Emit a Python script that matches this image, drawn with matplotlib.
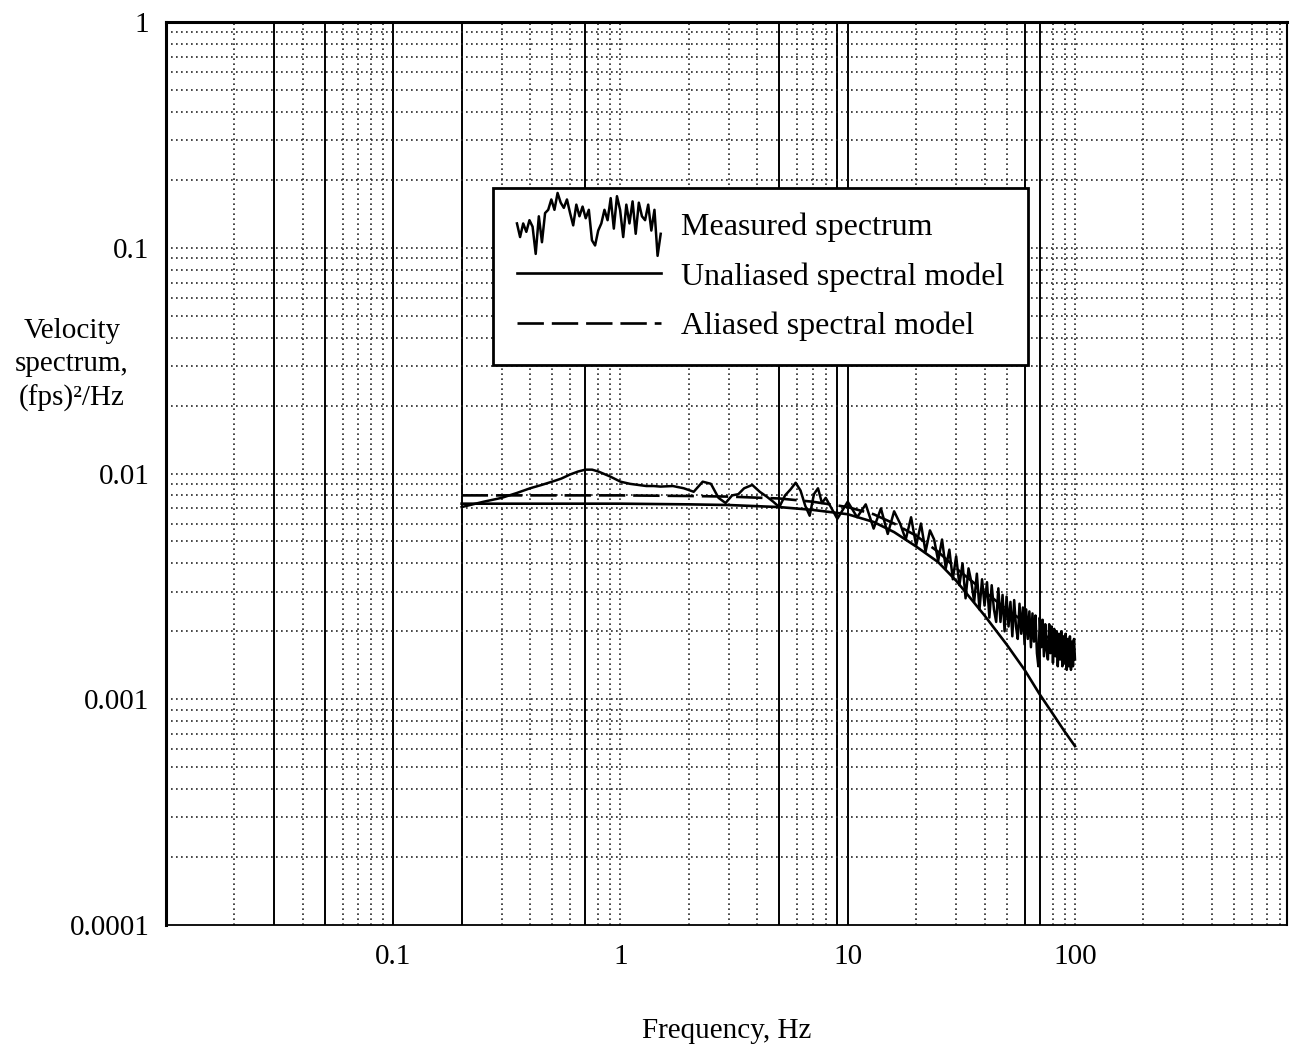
import numpy as np
import matplotlib
matplotlib.use('Agg')
import matplotlib.pyplot as plt
from matplotlib.legend_handler import HandlerBase
from matplotlib.lines import Line2D

# measured spectrum, low-frequency part (Hz, PSD in 1e-3 (fps)^2/Hz)
measured_freq_lo = [0.2, 0.25, 0.3, 0.35, 0.4, 0.45, 0.5, 0.55, 0.6, 0.65,
                    0.7, 0.75, 0.8, 0.9, 1.0, 1.1, 1.2, 1.3, 1.4, 1.5,
                    1.7, 1.9, 2.1, 2.3, 2.5, 2.7, 2.9, 3.1, 3.3, 3.5,
                    3.8, 4.1, 4.4, 4.7, 5.0, 5.3, 5.6, 5.9, 6.2, 6.5,
                    6.8, 7.1, 7.4, 7.7]
measured_psd_lo = [7.1, 7.5, 7.8, 8.2, 8.6, 8.9, 9.2, 9.5, 9.9, 10.2,
                   10.4, 10.4, 10.2, 9.7, 9.2, 9.0, 8.9, 8.8, 8.8, 8.75,
                   8.8, 8.6, 8.3, 9.2, 9.0, 7.8, 7.4, 8.0, 8.1, 8.6,
                   8.9, 8.3, 7.9, 7.5, 7.1, 8.0, 8.5, 9.1, 8.4, 7.2,
                   6.5, 8.1, 8.6, 7.4]

# measured spectrum, 1 Hz bins from 8 to 100 Hz
measured_freq_hi = [8, 9, 10, 11, 12, 13, 14, 15, 16, 17, 18, 19, 20,
                    21, 22, 23, 24, 25, 26, 27, 28, 29, 30, 31, 32, 33,
                    34, 35, 36, 37, 38, 39, 40, 41, 42, 43, 44, 45, 46,
                    47, 48, 49, 50, 51, 52, 53, 54, 55, 56, 57, 58, 59,
                    60, 61, 62, 63, 64, 65, 66, 67, 68, 69, 70, 71, 72,
                    73, 74, 75, 76, 77, 78, 79, 80, 81, 82, 83, 84, 85,
                    86, 87, 88, 89, 90, 91, 92, 93, 94, 95, 96, 97, 98,
                    99, 100]
measured_psd_hi = [7.8, 6.3, 7.5, 6.4, 7.3, 5.7, 7.0, 5.4, 6.8, 6.0, 5.1, 6.4, 4.8,
                   6.0, 4.5, 5.6, 5.1, 4.1, 5.1, 3.8, 4.6, 3.4, 4.3, 3.2, 4.0, 2.8,
                   3.8, 3.3, 2.7, 3.6, 2.5, 3.4, 2.6, 3.3, 2.3, 3.2, 2.5, 2.2, 3.1,
                   2.2, 2.9, 2.0, 2.85, 2.1, 2.7, 1.9, 2.75, 2.1, 1.85, 2.65, 1.95, 2.55,
                   1.75, 2.5, 1.85, 2.45, 1.7, 2.4, 1.8, 2.35, 1.6, 1.4, 2.3, 1.7, 2.25,
                   1.55, 2.15, 1.65, 1.5, 2.15, 1.6, 2.1, 1.45, 2.05, 1.55, 2.0, 1.4, 1.95,
                   1.5, 2.0, 1.4, 1.9, 1.45, 1.95, 1.35, 1.85, 1.4, 1.9, 1.35, 1.8, 1.4,
                   1.85, 1.5]

model_freq = [0.2, 0.5, 1, 2, 3, 5, 7, 10, 13, 16, 20, 25, 30, 40, 50,
              60, 70, 80, 90, 100]
unaliased_psd = [7.35, 7.35, 7.35, 7.3, 7.25, 7.1, 6.9, 6.6, 6.1, 5.5, 4.75,
                 4.05, 3.35, 2.35, 1.75, 1.35, 1.05, 0.86, 0.72, 0.62]
aliased_psd = [8.0, 8.0, 8.0, 7.95, 7.9, 7.75, 7.5, 7.1, 6.6, 6.0, 5.3,
               4.5, 3.8, 3.0, 2.5, 2.2, 1.98, 1.82, 1.72, 1.64]

# noisy swatch drawn in the legend box (0 = bottom, 1 = top of swatch)
legend_sample = [0.50, 0.29, 0.50, 0.37, 0.55, 0.45, 0.03, 0.61, 0.21, 0.66,
                 0.71, 0.87, 0.71, 0.97, 0.82, 0.74, 0.87, 0.66, 0.47, 0.79,
                 0.61, 0.76, 0.58, 0.71, 0.24, 0.16, 0.39, 0.50, 0.71, 0.55,
                 0.89, 0.42, 0.92, 0.71, 0.29, 0.79, 0.50, 0.84, 0.34, 0.82,
                 0.61, 0.55, 0.79, 0.39, 0.71, 0.00, 0.34]

x_ticks = [0.1, 1, 10, 100]
x_tick_labels = ['0.1', '1', '10', '100']
y_ticks = [1e-4, 1e-3, 1e-2, 1e-1, 1]
y_tick_labels = ['0.0001', '0.001', '0.01', '0.1', '1']

# grid lines that print heavy on the chart paper
heavy_lines = [0.03, 0.05, 0.1, 0.2, 0.7, 5, 9, 10, 60, 70]


class HandlerTrace(HandlerBase):
    def __init__(self, sample, **kw):
        super().__init__(**kw)
        self.sample = np.asarray(sample)

    def create_artists(self, legend, orig_handle, xdescent, ydescent,
                       width, height, fontsize, trans):
        x = np.linspace(0, width, len(self.sample)) - xdescent
        y = height / 2 + (self.sample - 0.5) * 2.9 * height - ydescent
        line = Line2D(x, y, color='black', lw=orig_handle.get_linewidth())
        line.set_transform(trans)
        return [line]


plt.rcParams['font.family'] = ['Liberation Serif', 'DejaVu Serif']

fig = plt.figure(figsize=(12.91, 10.53), dpi=100)
ax = fig.add_axes([166 / 1291, 1 - 925 / 1053, 1121 / 1291, 903 / 1053])
ax.set_xscale('log')
ax.set_yscale('log')
ax.set_xlim(0.01, 857)
ax.set_ylim(1e-4, 1)

# chart-paper grid
dot = (0, (1, 2))
for k in range(-2, 3):
    for m in range(1, 10):
        f = m * 10.0 ** k
        if f <= 0.01 or f >= 857:
            continue
        if any(abs(f - h) / h < 1e-6 for h in heavy_lines):
            ax.axvline(f, color='black', lw=1.4, zorder=1)
        else:
            ax.axvline(f, color='0.15', lw=1.2, ls=dot, zorder=1)
for k in range(-4, 0):
    for m in range(1, 10):
        v = m * 10.0 ** k
        if v <= 1e-4:
            continue
        ax.axhline(v, color='0.15', lw=1.2, ls=dot, zorder=1)

mf = np.array(measured_freq_lo + measured_freq_hi)
mp = np.array(measured_psd_lo + measured_psd_hi) * 1e-3
line_meas, = ax.plot(mf, mp, color='black', lw=1.8, zorder=4,
                     label='Measured spectrum')
line_un, = ax.plot(model_freq, np.array(unaliased_psd) * 1e-3, color='black',
                   lw=1.9, zorder=3, label='Unaliased spectral model')
line_al, = ax.plot(model_freq, np.array(aliased_psd) * 1e-3, color='black',
                   lw=1.9, dashes=(10, 3), zorder=3,
                   label='Aliased spectral model')

ax.set_xticks(x_ticks)
ax.set_xticklabels(x_tick_labels)
ax.set_yticks(y_ticks)
ax.set_yticklabels(y_tick_labels)
ax.minorticks_off()
ax.tick_params(axis='both', length=0, labelsize=21)
ax.tick_params(axis='x', pad=14)
ax.tick_params(axis='y', pad=12)

for side in ['left', 'top']:
    ax.spines[side].set_linewidth(2.2)
ax.spines['bottom'].set_linewidth(1.3)
ax.spines['right'].set_linewidth(1.5)

ax.set_xlabel('Frequency, Hz', fontsize=21)
ax.xaxis.set_label_coords(0.5, -0.103)
ax.set_ylabel('Velocity\nspectrum,\n(fps)\u00b2/Hz', fontsize=21, rotation=0,
              ha='center', va='center', linespacing=1.35)
ax.yaxis.set_label_coords(-0.084, 0.62)

leg = ax.legend(handles=[line_meas, line_un, line_al],
                handler_map={line_meas: HandlerTrace(legend_sample)},
                loc='upper left', bbox_to_anchor=(0.2917, 0.816),
                borderaxespad=0, fontsize=23, handlelength=4.5,
                handletextpad=0.63, borderpad=0.75, labelspacing=0.64,
                fancybox=False, framealpha=1, edgecolor='black')
leg.get_frame().set_linewidth(2.0)
leg.set_zorder(6)

fig.savefig('out.png', dpi=100)
